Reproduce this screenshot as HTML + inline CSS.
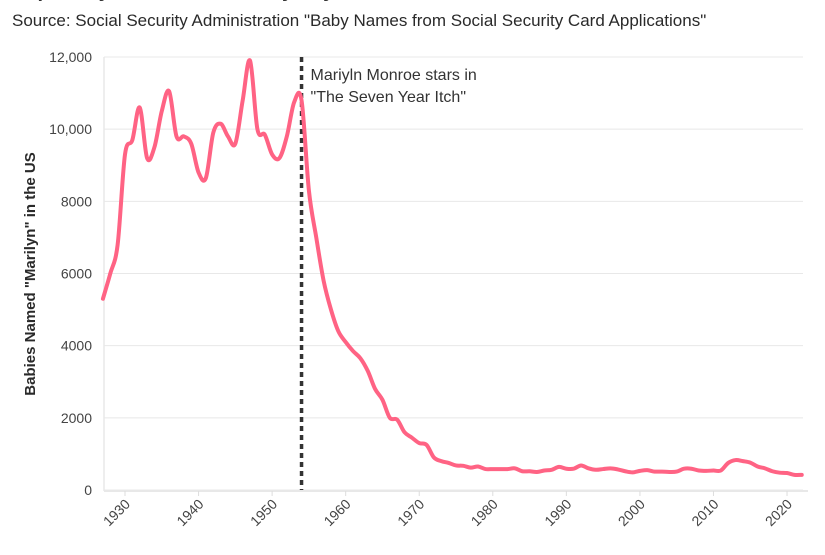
<!DOCTYPE html>
<html><head><meta charset="utf-8"><style>
body{margin:0;width:825px;height:550px;overflow:hidden;background:#fff;font-family:"Liberation Sans",sans-serif;}
</style></head><body>
<svg width="825" height="550" xmlns="http://www.w3.org/2000/svg">
<text x="12" y="-3" font-size="20" font-weight="bold" fill="#333">Popularity of the Name Marilyn by Year</text>
<text x="12" y="26" font-size="17" fill="#2a2a2a">Source: Social Security Administration "Baby Names from Social Security Card Applications"</text>
<g id="grid"></g><g id="axes"></g><g id="marks"></g>
<text transform="translate(35,274) rotate(-90)" text-anchor="middle" font-size="15" font-weight="bold" fill="#2a2a2a">Babies Named "Marilyn" in the US</text>
</svg>
<script>
const years=[];for(let y=1927;y<=2022;y++)years.push(y);
const counts=[5300,6000,6800,9300,9700,10600,9200,9500,10500,11050,9800,9800,9600,8800,8650,9900,10150,9800,9600,10800,11900,10000,9850,9300,9200,9800,10750,10800,8300,7000,5800,5000,4400,4100,3850,3650,3300,2800,2500,2000,1950,1600,1450,1300,1250,900,800,750,680,670,620,650,580,580,580,580,600,520,520,500,540,560,640,590,590,680,600,560,580,600,570,520,490,530,550,510,510,500,510,590,590,540,530,540,540,750,830,800,760,650,600,520,480,470,420,420];
const yTicks=[0,2000,4000,6000,8000,10000,12000];
const yTickLabels=["0","2000","4000","6000","8000","10,000","12,000"];
const xTicks=[1930,1940,1950,1960,1970,1980,1990,2000,2010,2020];
const eventYear=1954;
const NS="http://www.w3.org/2000/svg";
const X=v=>125+(v-1930)*7.356, Y=v=>490-v*433/12000;
function mk(t,a,p){const e=document.createElementNS(NS,t);for(const k in a)e.setAttribute(k,a[k]);p.appendChild(e);return e;}
const grid=document.getElementById('grid'),axes=document.getElementById('axes'),marks=document.getElementById('marks');
yTicks.forEach((v,i)=>{
 const l=mk('line',{x1:104,x2:803,y1:Y(v),y2:Y(v),stroke:'#e8e8e8','stroke-width':1},grid);
 
 
 const t=mk('text',{x:92,y:Y(v)+5,'text-anchor':'end','font-size':14,fill:'#444'},axes);t.textContent=yTickLabels[i];
 
 
});
const yl=mk('line',{x1:104,x2:104,y1:57,y2:491,stroke:'#e8e8e8','stroke-width':1.5},axes);


const xl=mk('line',{x1:104,x2:808,y1:491,y2:491,stroke:'#e8e8e8','stroke-width':2},axes);


xTicks.forEach(v=>{
 const tk=mk('line',{x1:X(v),x2:X(v),y1:491,y2:496,stroke:'#ddd'},axes);
 
 
 const t=mk('text',{transform:`translate(${X(v)+6},${505}) rotate(-45)`,'text-anchor':'end','font-size':14,fill:'#444'},axes);t.textContent=v;
 
 
});
const ev=mk('line',{x1:X(eventYear),x2:X(eventYear),y1:57,y2:490,stroke:'#333','stroke-width':3.5,'stroke-dasharray':'5,4'},marks);


const at=mk('text',{x:X(eventYear)+9,y:80,'font-size':16,fill:'#333'},marks);
at.innerHTML='<tspan x="'+(X(eventYear)+9)+'">Mariyln Monroe stars in</tspan><tspan x="'+(X(eventYear)+9)+'" dy="22">"The Seven Year Itch"</tspan>';


const pts=years.map((y,i)=>[X(y),Y(counts[i])]);
let d='M'+pts[0][0]+','+pts[0][1];
for(let i=0;i<pts.length-1;i++){const p0=pts[i-1]||pts[i],p1=pts[i],p2=pts[i+1],p3=pts[i+2]||p2;
 d+=` C${p1[0]+(p2[0]-p0[0])/6},${p1[1]+(p2[1]-p0[1])/6} ${p2[0]-(p3[0]-p1[0])/6},${p2[1]-(p3[1]-p1[1])/6} ${p2[0]},${p2[1]}`;}
const ln=mk('path',{d:d,fill:'none',stroke:'#ff6384','stroke-width':4,'stroke-linejoin':'round','stroke-linecap':'round'},marks);


</script>
</body></html>
